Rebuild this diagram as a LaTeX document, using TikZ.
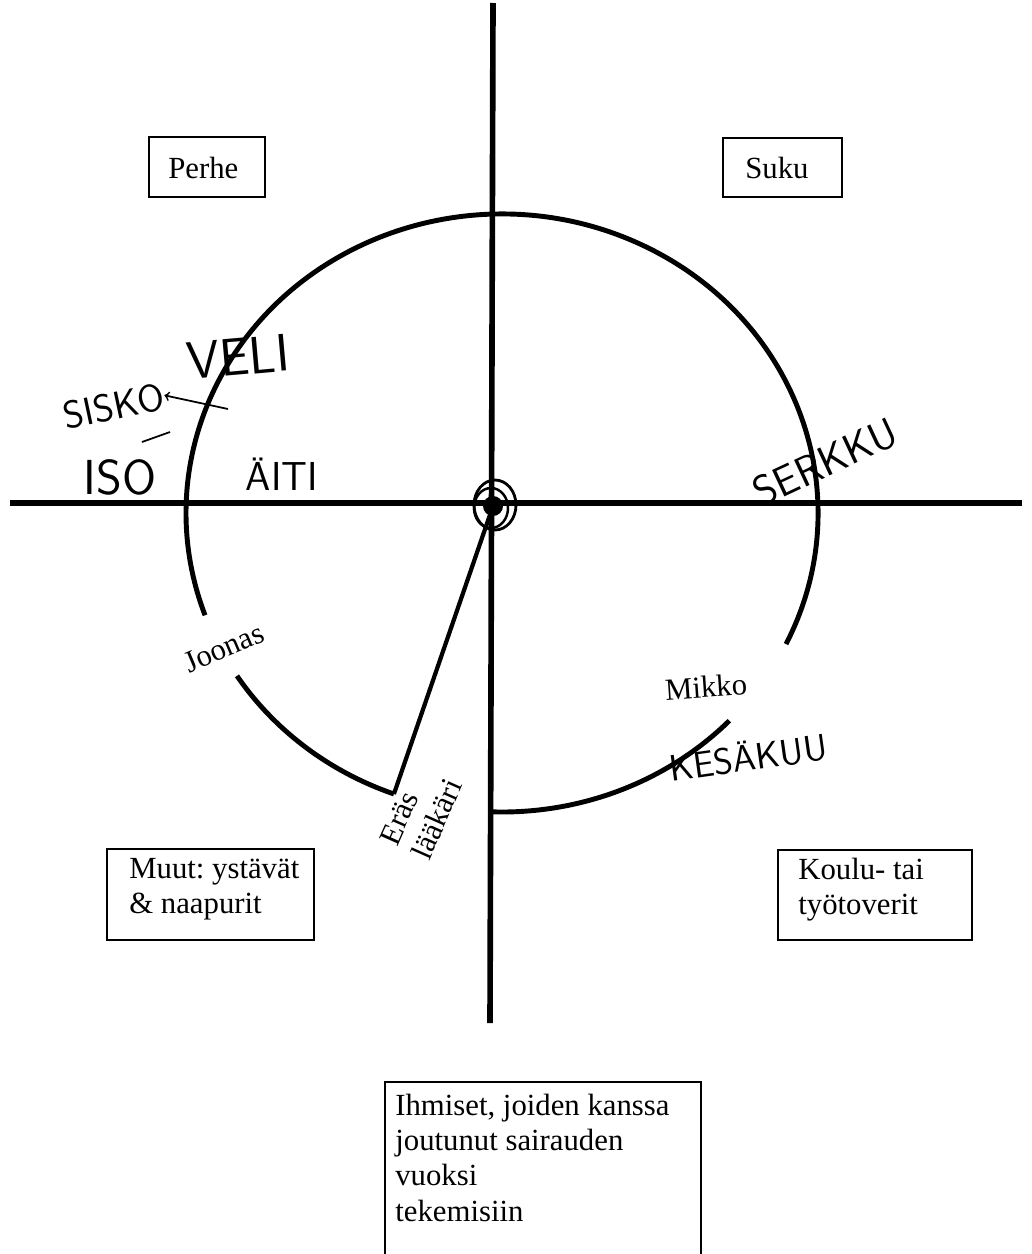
\documentclass[tikz,border=0pt]{standalone}
\usepackage{fontspec}
\setmainfont{Liberation Serif}
\usepackage{tikz}
\frenchspacing
\tikzset{
  axisline/.style={line width=3.2pt},
  ringline/.style={line width=2.8pt},
  spokeline/.style={line width=2.4pt},
  boxline/.style={line width=1.1pt},
  boxtext/.style={inner sep=0pt, font=\fontsize{17.5}{20}\selectfont},
  printed/.style={inner sep=0pt, font=\fontsize{17.5}{20}\selectfont},
  hand/.style={inner sep=0pt, font=\sffamily\fontsize{#1}{#1}\selectfont},
  hand/.default=24,
  pen/.style={line width=1pt}
}

\begin{document}
\begin{tikzpicture}[x=0.02cm,y=0.02cm]
  \useasboundingbox (0,0) rectangle (1031,-1254);

  % axes
  \coordinate (o) at (493,-506);
  \draw[axisline] (10,-503) -- (1022,-503);
  \draw[axisline] (493,-3) -- (490,-1023);

  % circle, drawn in pieces
  \coordinate (c) at (502,-513);
  \draw[ringline] ([shift={(-26:316 and 299)}]c) arc[start angle=-26, end angle=200, x radius=316, y radius=299];
  \draw[ringline] ([shift={(213:316 and 299)}]c) arc[start angle=213, end angle=250, x radius=316, y radius=299];
  \draw[ringline] ([shift={(268:316 and 299)}]c) arc[start angle=268, end angle=316, x radius=316, y radius=299];
  \coordinate (w) at ([shift={(250:316 and 299)}]c);
  \draw[spokeline] (w) -- (o);

  % centre mark
  \fill (o) circle (10);
  \draw[line width=1.6pt] (495,-505) ellipse (21 and 25);
  \draw[line width=1.4pt] (491,-508) ellipse (17 and 20);

  % boxes
  \draw[boxline] (149,-137) rectangle (265,-197);
  \node[boxtext, anchor=base west] (perhe) at (168,-178) {Perhe};
  \draw[boxline] (723,-138) rectangle (842,-197);
  \node[boxtext, anchor=base west] (suku) at (745,-178) {Suku};
  \draw[boxline] (107,-849) rectangle (314,-940);
  \node[boxtext, anchor=north west, align=left] (muut) at (129,-858) {Muut: ystävät\\\& naapurit};
  \draw[boxline] (778,-850) rectangle (972,-940);
  \node[boxtext, anchor=north west, align=left] (koulu) at (798,-858) {Koulu- tai\\työtoverit};
  \draw[boxline] (385,-1254) |- (701,-1082) -- (701,-1254);
  \node[boxtext, anchor=north west, align=left] (ihmiset) at (395,-1094) {Ihmiset, joiden kanssa\\joutunut sairauden\\vuoksi\\tekemisiin};

  % printed names
  \node[printed, rotate=23] (joonas) at (224,-648) {Joonas};
  \node[printed, rotate=4] (mikko) at (706,-687) {Mikko};
  \node[printed, rotate=66, align=left] (laakari) at (421,-812) {Eräs\\lääkäri};

  % handwriting
  \node[hand=30, rotate=5] (veli) at (238,-357) {VELI};
  \node[hand=22, rotate=12] (sisko) at (114,-406) {SISKO};
  \node[hand=28] (iso) at (120,-477) {ISO};
  \node[hand=23] (aiti) at (282,-474) {ÄITI};
  \node[hand=24, rotate=25] (serkku) at (825,-462) {SERKKU};
  \node[hand=21, rotate=8] (kesakuu) at (748,-756) {KESÄKUU};
  \coordinate (tail) at (228,-409);
  \draw[pen,->] (tail) -- (sisko.east);
  \draw[pen] (142,-442) -- (170,-432);
\end{tikzpicture}
\end{document}
